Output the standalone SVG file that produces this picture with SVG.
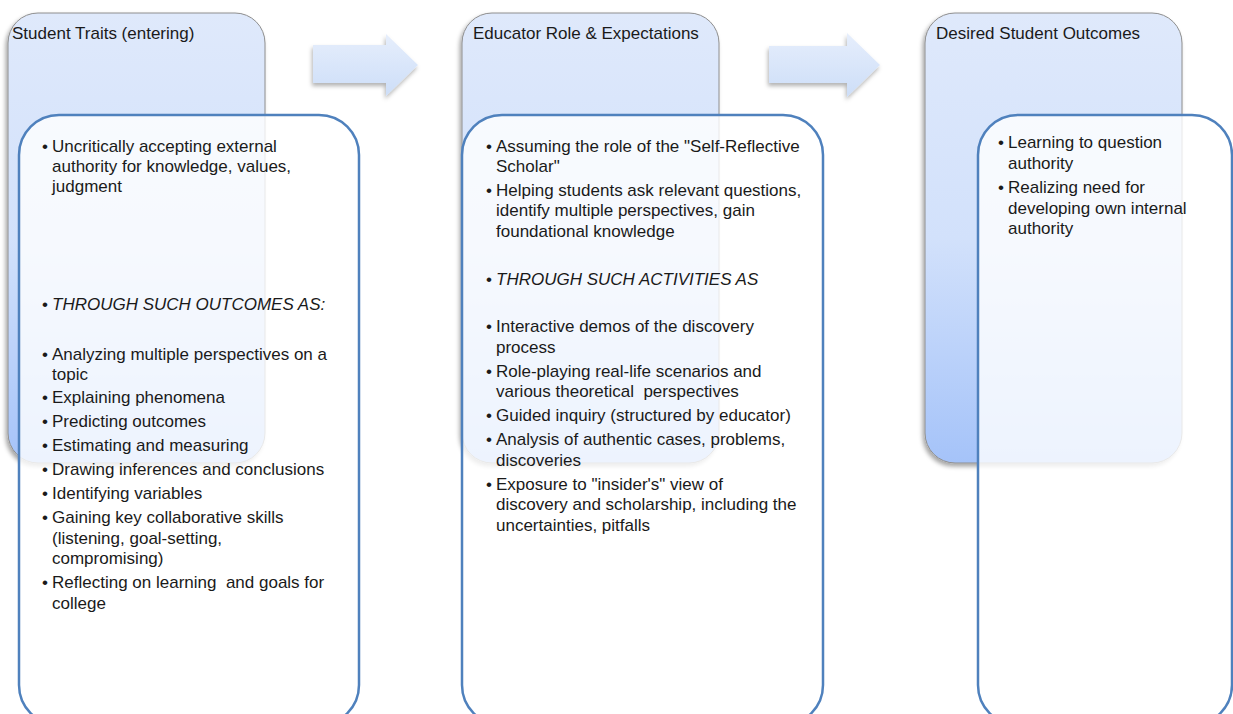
<svg xmlns="http://www.w3.org/2000/svg" width="1233" height="714" viewBox="0 0 1233 714">
<defs>
<linearGradient id="gBack" x1="0" y1="0" x2="0" y2="1">
<stop offset="0" stop-color="#dfe9fb"/>
<stop offset="0.5" stop-color="#d2e1fb"/>
<stop offset="1" stop-color="#a5c3f9"/>
</linearGradient>
<linearGradient id="gArrow" x1="0" y1="0" x2="0" y2="1">
<stop offset="0" stop-color="#e6eefc"/>
<stop offset="1" stop-color="#cddef8"/>
</linearGradient>
<filter id="sh" x="-10%" y="-10%" width="120%" height="120%">
<feDropShadow dx="-2" dy="3" stdDeviation="2" flood-color="#000" flood-opacity="0.35"/>
</filter>
<filter id="shA" x="-20%" y="-20%" width="140%" height="150%">
<feDropShadow dx="-1" dy="3" stdDeviation="2" flood-color="#000" flood-opacity="0.3"/>
</filter>
</defs>
<style>
.back{fill:url(#gBack);stroke:#8e8e8e;stroke-width:1;filter:url(#sh)}
.front{fill:#ffffff;fill-opacity:0.8;stroke:#4f81bd;stroke-width:2.5}
.arrow{fill:url(#gArrow);filter:url(#shA)}
text{font-family:"Liberation Sans",Arial,sans-serif;font-size:17px;fill:#1a1a1a}
.it{font-style:italic}
</style>
<rect width="1233" height="714" fill="#ffffff"/>

<g id="back1"><rect class="back" x="8" y="13" width="257" height="450" rx="30"/></g>
<g id="back2"><rect class="back" x="462" y="13" width="257" height="450" rx="30"/></g>
<g id="back3"><rect class="back" x="925" y="13" width="257" height="450" rx="30"/></g>

<g id="connectors">
<polygon class="arrow" points="313,45 386,45 386,34 418,65 386,96 386,83 313,83"/>
<polygon class="arrow" points="769,46 847,46 847,33 880,65 847,97 847,83 769,83"/>
</g>

<g id="front1"><rect class="front" x="19" y="115" width="340" height="610" rx="40"/></g>
<g id="front2"><rect class="front" x="462" y="115" width="361" height="610" rx="40"/></g>
<g id="front3"><rect class="front" x="978" y="115" width="254" height="610" rx="40"/></g>

<g id="text1">
<text x="12" y="39">Student Traits (entering)</text>
<text x="42" y="152">•</text><text x="52" y="152">Uncritically accepting external</text>
<text x="52" y="172">authority for knowledge, values,</text>
<text x="52" y="192">judgment</text>
<text x="42" y="310">•</text><text class="it" x="52" y="310">THROUGH SUCH OUTCOMES AS:</text>
<text x="42" y="360">•</text><text x="52" y="360">Analyzing multiple perspectives on a</text>
<text x="52" y="380">topic</text>
<text x="42" y="403">•</text><text x="52" y="403">Explaining phenomena</text>
<text x="42" y="427">•</text><text x="52" y="427">Predicting outcomes</text>
<text x="42" y="451">•</text><text x="52" y="451">Estimating and measuring</text>
<text x="42" y="475">•</text><text x="52" y="475">Drawing inferences and conclusions</text>
<text x="42" y="499">•</text><text x="52" y="499">Identifying variables</text>
<text x="42" y="523">•</text><text x="52" y="523">Gaining key collaborative skills</text>
<text x="52" y="544">(listening, goal-setting,</text>
<text x="52" y="564">compromising)</text>
<text x="42" y="588">•</text><text x="52" y="588" xml:space="preserve">Reflecting on learning  and goals for</text>
<text x="52" y="609">college</text>
</g>

<g id="text2">
<text x="473" y="39">Educator Role &amp; Expectations</text>
<text x="486" y="152">•</text><text x="496" y="152">Assuming the role of the "Self-Reflective</text>
<text x="496" y="172">Scholar"</text>
<text x="486" y="196">•</text><text x="496" y="196">Helping students ask relevant questions,</text>
<text x="496" y="216">identify multiple perspectives, gain</text>
<text x="496" y="237">foundational knowledge</text>
<text x="486" y="285">•</text><text class="it" x="496" y="285">THROUGH SUCH ACTIVITIES AS</text>
<text x="486" y="332">•</text><text x="496" y="332">Interactive demos of the discovery</text>
<text x="496" y="353">process</text>
<text x="486" y="377">•</text><text x="496" y="377">Role-playing real-life scenarios and</text>
<text x="496" y="397" xml:space="preserve">various theoretical  perspectives</text>
<text x="486" y="421">•</text><text x="496" y="421">Guided inquiry (structured by educator)</text>
<text x="486" y="445">•</text><text x="496" y="445">Analysis of authentic cases, problems,</text>
<text x="496" y="466">discoveries</text>
<text x="486" y="490">•</text><text x="496" y="490">Exposure to "insider's" view of</text>
<text x="496" y="510">discovery and scholarship, including the</text>
<text x="496" y="531">uncertainties, pitfalls</text>
</g>

<g id="text3">
<text x="936" y="39">Desired Student Outcomes</text>
<text x="998" y="148">•</text><text x="1008" y="148">Learning to question</text>
<text x="1008" y="169">authority</text>
<text x="998" y="193">•</text><text x="1008" y="193">Realizing need for</text>
<text x="1008" y="214">developing own internal</text>
<text x="1008" y="234">authority</text>
</g>
</svg>
